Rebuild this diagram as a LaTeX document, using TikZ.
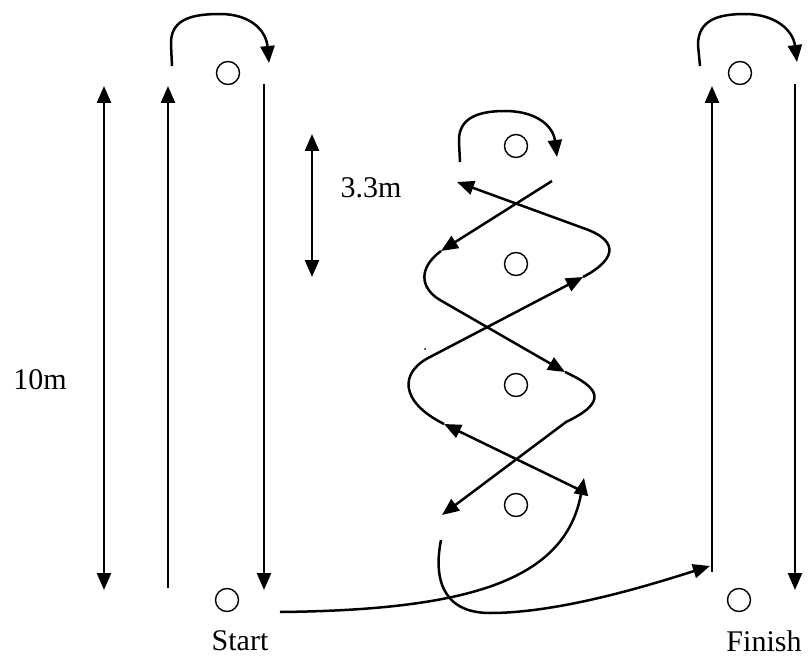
\documentclass[tikz,border=0pt]{standalone}
\usepackage{fontspec}
\setmainfont{Liberation Serif}
\usetikzlibrary{arrows.meta, positioning}

\begin{document}
\begin{tikzpicture}[x=1pt, y=-1pt, >={Triangle[length=17pt,width=14pt]},
    run/.style={line width=2.5pt},
    cone/.style={circle, draw, line width=1.4pt, minimum size=23pt, inner sep=0pt},
    lbl/.style={font=\fontsize{30}{36}\selectfont, inner sep=1pt}]
    \useasboundingbox (0,0) rectangle (812,658);
    % cones
    \node [cone] (start) at (227,600) {};
    \node [cone] (finish) at (739,600) {};
    \node [cone] (turnL) at (228,73) {};
    \node [cone] (turnR) at (740,73) {};
    \node [cone] (m1) at (516,146) {};
    \node [cone] (m2) at (516,264) {};
    \node [cone] (m3) at (516,385) {};
    \node [cone] (m4) at (516,505) {};
    \node [lbl] at (240,641) {Start};
    \node [lbl] at (764,641) {Finish};
    \node [lbl] at (40,380) {10m};
    \node [lbl] at (371,188) {3.3m};
    % distances
    \draw [run, <->] (104,86) -- (104,590);
    \draw [run, <->] (312,134) -- (312,277);
    % left shuttle
    \draw [run, ->] (168,588) -- (168,86);
    \draw [run, ->] (172,66) -- (171,45) .. controls (170,20) and (190,14) .. (220,14)
        .. controls (250,14) and (266,30) .. (269,63);
    \draw [run, ->] (264,84) -- (264,590);
    % right shuttle
    \draw [run, ->] (712,572) -- (712,86);
    \draw [run, ->] (700,66) -- (698,45) .. controls (698,20) and (718,14) .. (745,14)
        .. controls (775,14) and (793,30) .. (797,62);
    \draw [run, ->] (795,84) -- (795,590);
    % weave
    \draw [run, ->] (280,612) .. controls (470,610) and (565,580) .. (584,478);
    \draw [run, ->] (584,492) -- (444,424);
    \draw [run, ->] (444,424) .. controls (400,402) and (398,372) .. (432,356) -- (583,277);
    \draw [run, ->] (583,277) .. controls (612,262) and (624,242) .. (583,228) -- (457,182);
    \draw [run, ->] (460,162) -- (459,142) .. controls (458,118) and (478,111) .. (505,111)
        .. controls (535,111) and (553,125) .. (557,157);
    \draw [run, ->] (552,181) -- (441,251);
    \draw [run, ->] (441,251) .. controls (418,268) and (420,288) .. (440,300) -- (565,372);
    \draw [run, ->] (565,372) .. controls (600,388) and (608,402) .. (566,422) -- (442,515);
    \draw [run, ->] (441,540) .. controls (434,575) and (440,613) .. (490,613)
        .. controls (560,613) and (650,585) .. (710,566);
    \fill (425,349) circle (1pt);
\end{tikzpicture}
\end{document}
